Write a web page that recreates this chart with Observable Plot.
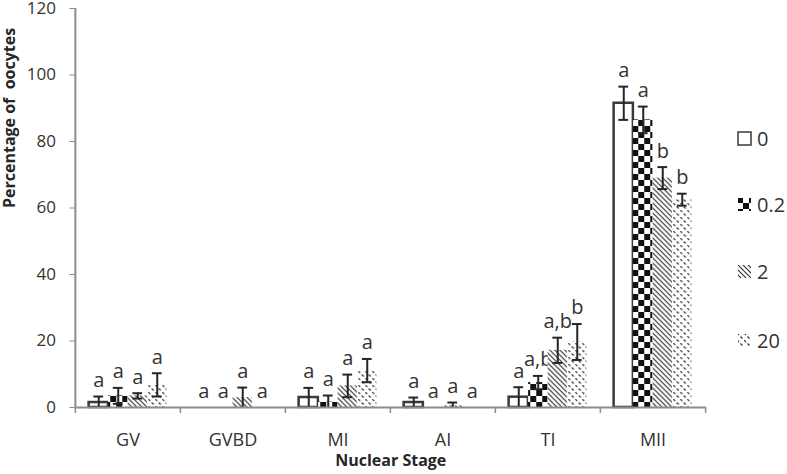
<!DOCTYPE html>
<html>
<head>
<meta charset="utf-8">
<script src="https://cdn.jsdelivr.net/npm/d3@7"></script>
<script src="https://cdn.jsdelivr.net/npm/@observablehq/plot@0.6"></script>
<style>
  body { margin: 0; background: #fff; font-family: "Open Sans", sans-serif; }
  #wrap { position: relative; width: 787px; height: 474px; }
  #legend { position: absolute; left: 737px; top: 0; }
  .item { position: absolute; left: 0; display: flex; align-items: center; white-space: nowrap; color: #333; font-size: 20px; }
  .item svg { margin-right: 5px; }
</style>
</head>
<body>
<svg width="0" height="0" style="position:absolute">
  <defs>
    <pattern id="checker" patternUnits="userSpaceOnUse" width="12" height="12">
      <rect width="12" height="12" fill="#fff"/>
      <rect x="0" y="0" width="6" height="6" fill="#111"/>
      <rect x="6" y="6" width="6" height="6" fill="#111"/>
    </pattern>
    <pattern id="hatch" patternUnits="userSpaceOnUse" width="5" height="5">
      <rect width="5" height="5" fill="#fff"/>
      <path d="M-1,-1 L6,6 M-1,4 L1,6 M4,-1 L6,1" stroke="#333" stroke-width="1.2"/>
    </pattern>
    <pattern id="dotted" patternUnits="userSpaceOnUse" width="7" height="7">
      <rect width="7" height="7" fill="#fff"/>
      <path d="M0,0 L2,2 M3.5,3.5 L5.5,5.5" stroke="#333" stroke-width="1.2"/>
    </pattern>
  </defs>
</svg>
<div id="wrap"><div id="legend"></div></div>
<script>
const stages = ["GV", "GVBD", "MI", "AI", "TI", "MII"];
const doses = ["0", "0.2", "2", "20"];
const yTicks = [0, 20, 40, 60, 80, 100, 120];

const value0  = [1.5, 0, 3.0, 1.5, 3.1, 91.5];
const err0    = [1.8, 0, 2.9, 1.5, 3.0, 5.0];
const label0  = ["a", "a", "a", "a", "a", "a"];

const value02 = [3.5, 0, 1.6, 0, 7.5, 86.5];
const err02   = [2.4, 0, 2.0, 0, 2.0, 4.0];
const label02 = ["a", "a", "a", "a", "a,b", "a"];

const value2  = [3.5, 3.0, 6.5, 0.5, 17.2, 69.0];
const err2    = [0.8, 3.0, 3.4, 1.0, 3.8, 3.3];
const label2  = ["a", "a", "a", "a", "a,b", "b"];

const value20 = [6.8, 0, 11.1, 0, 19.7, 62.5];
const err20   = [3.5, 0, 3.5, 0, 5.4, 1.8];
const label20 = ["a", "a", "a", "a", "b", "b"];

const series = [
  {dose: doses[0], values: value0, errs: err0, labels: label0, fill: "white", stroke: "#3a3a3a"},
  {dose: doses[1], values: value02, errs: err02, labels: label02, fill: "url(#checker)", stroke: "none"},
  {dose: doses[2], values: value2, errs: err2, labels: label2, fill: "url(#hatch)", stroke: "none"},
  {dose: doses[3], values: value20, errs: err20, labels: label20, fill: "url(#dotted)", stroke: "none"}
];

const W = 787, H = 474;
const mL = 74.5, mR = 81, mT = 8, mB = 67;
const bw = (W - mL - mR) / stages.length;
const barW = 19.5;
const inset = (bw - barW) / 2;
const capInset = (bw - 10) / 2;
const ink = "#262626";
const axisGray = "#8c8c8c";

const marks = [];
series.forEach((s, i) => {
  const off = (i - 1.5) * barW;
  const rows = stages.map((st, j) => ({stage: st, value: s.values[j], err: s.errs[j], label: s.labels[j]}));
  const nonzero = rows.filter(d => d.value > 0);
  const withErr = rows.filter(d => d.err > 0);
  marks.push(Plot.barY(nonzero, {x: "stage", y: "value", dx: off, insetLeft: inset, insetRight: inset,
    fill: s.fill, stroke: s.stroke, strokeWidth: 2.5}));
  marks.push(Plot.ruleX(withErr, {x: "stage", y1: d => Math.max(0, d.value - d.err), y2: d => d.value + d.err, dx: off, stroke: ink, strokeWidth: 2}));
  marks.push(Plot.tickY(withErr, {x: "stage", y: d => d.value + d.err, dx: off, insetLeft: capInset, insetRight: capInset, stroke: ink, strokeWidth: 2}));
  marks.push(Plot.tickY(withErr.filter(d => d.value - d.err > 0.3), {x: "stage", y: d => d.value - d.err, dx: off, insetLeft: capInset, insetRight: capInset, stroke: ink, strokeWidth: 2}));
  marks.push(Plot.text(rows, {x: "stage", y: d => d.value + d.err, text: "label", dx: off, dy: -16, fontSize: 20, fill: "#333"}));
});

const chart = Plot.plot({
  width: W, height: H,
  marginLeft: mL, marginRight: mR, marginTop: mT, marginBottom: mB,
  style: {fontFamily: "'Open Sans', sans-serif", color: "#333", background: "white", overflow: "visible"},
  x: {domain: stages, padding: 0, label: null},
  y: {domain: [0, 120], label: null},
  marks: [
    ...marks,
    Plot.ruleY([0], {stroke: axisGray, strokeWidth: 2}),
    Plot.ruleX([stages[0]], {x: d => d, dx: -bw / 2, y1: 0, y2: 120, stroke: axisGray, strokeWidth: 2}),
    Plot.ruleX(stages, {x: d => d, dx: -bw / 2, y1: 0, y2: -1.8, stroke: axisGray, strokeWidth: 1.5}),
    Plot.ruleX([stages[stages.length - 1]], {x: d => d, dx: bw / 2, y1: 0, y2: -1.8, stroke: axisGray, strokeWidth: 1.5}),
    Plot.axisY({ticks: yTicks, tickSize: 5, tickPadding: 14, fontSize: 17, stroke: axisGray, label: null, tickFormat: d => String(d)}),
    Plot.axisX({tickSize: 0, tickPadding: 26, fontSize: 18, label: null}),
    Plot.text(["Percentage of\u00a0 oocytes"], {frameAnchor: "left", rotate: -90, dx: -65, fontSize: 16, fontWeight: "bold", fill: "#262626"}),
    Plot.text(["Nuclear Stage"], {frameAnchor: "bottom", dy: 53, lineAnchor: "middle", fontSize: 16, fontWeight: "bold", fill: "#262626"})
  ]
});
document.getElementById("wrap").prepend(chart);

// legend
const legendY = [138, 204, 271, 340];
const legend = document.getElementById("legend");
series.forEach((s, i) => {
  const item = document.createElement("div");
  item.className = "item";
  item.style.top = (legendY[i] - 14) + "px";
  item.style.height = "28px";
  const sw = s.dose === "0"
    ? `<svg width="15" height="15"><rect x="1" y="1" width="13" height="13" fill="white" stroke="#3a3a3a" stroke-width="1.5"/></svg>`
    : `<svg width="15" height="15"><rect x="1" y="1" width="13" height="13" fill="${s.fill}"/></svg>`;
  item.innerHTML = sw + `<span>${s.dose}</span>`;
  legend.appendChild(item);
});
</script>
</body>
</html>
